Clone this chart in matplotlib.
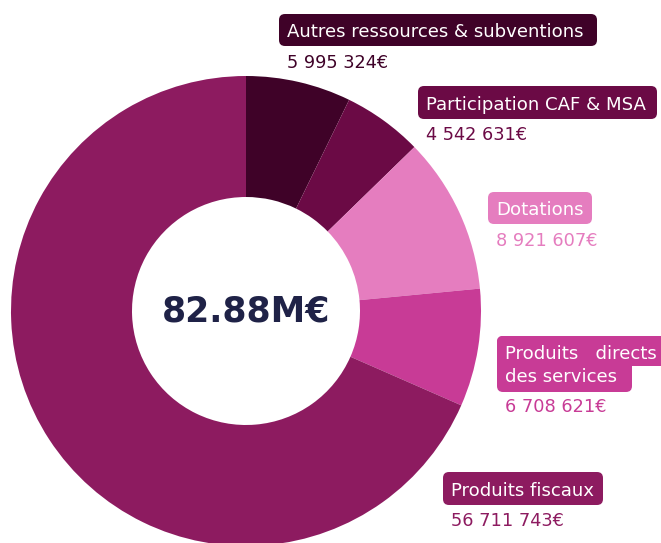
import matplotlib
matplotlib.use("Agg")
import matplotlib.pyplot as plt
from matplotlib.patches import FancyBboxPatch

# ---- data ----
categories = ["Autres ressources & subventions", "Participation CAF & MSA", "Dotations",
              "Produits   directs\ndes services", "Produits fiscaux"]
values = [5995324, 4542631, 8921607, 6708621, 56711743]
value_labels = ["5 995 324€", "4 542 631€", "8 921 607€", "6 708 621€", "56 711 743€"]
colors = ["#3f0228", "#6b0a45", "#e57dbf", "#c83b96", "#8d1b60"]
total_label = "82.88M€"

W, H = 661, 543
fig = plt.figure(figsize=(W / 100, H / 100), dpi=100)
ax = fig.add_axes([0, 0, 1, 1])

def Y(py):
    return H - py

cx, cy, R, r_in = 246, 311, 235, 114
ax.pie(values, colors=colors, startangle=90, counterclock=False,
       center=(cx, Y(cy)), radius=R,
       wedgeprops=dict(width=R - r_in, linewidth=0))
ax.set_xlim(0, W)
ax.set_ylim(0, H)
ax.set_aspect("equal")
ax.axis("off")

ax.text(cx, Y(cy), total_label, ha="center", va="center", fontsize=25,
        fontweight="bold", color="#1f2247", family="DejaVu Sans")

FONT = "DejaVu Sans"
LFS = 13.1
VFS = 12.8

def box(x0, y0, x1, y1, color):
    p = FancyBboxPatch((x0 + 6, Y(y1) + 6), (x1 - x0) - 12, (y1 - y0) - 12,
                       boxstyle="round,pad=6", fc=color, ec="none", zorder=3)
    ax.add_patch(p)

# label layout: (box x0,y0,x1,y1), text x, text y, value y
layout = [
    ((279, 14, 597, 46), 287, 30, 61),
    ((418, 86, 657, 119), 426, 103, 133),
    ((488, 192, 592, 224), 496, 208, 239),
    (None, 505, None, 405),
    ((443, 472, 603, 505), 451, 489, 519),
]

for i, (b, tx, ty, vy) in enumerate(layout):
    if b is not None:
        box(*b, colors[i])
        ax.text(tx, Y(ty), categories[i], ha="left", va="center_baseline",
                fontsize=LFS, color="white", family=FONT, zorder=4)
    else:
        box(497, 336, 668, 366, colors[i])
        box(497, 336, 632, 392, colors[i])
        l1, l2 = categories[i].split("\n")
        ax.text(tx, Y(352), l1, ha="left", va="center_baseline",
                fontsize=LFS, color="white", family=FONT, zorder=4)
        ax.text(tx, Y(375), l2, ha="left", va="center_baseline",
                fontsize=LFS, color="white", family=FONT, zorder=4)
    ax.text(tx, Y(vy), value_labels[i], ha="left", va="center_baseline",
            fontsize=VFS, color=colors[i], family=FONT, zorder=4)

fig.savefig("out.png", dpi=100)
